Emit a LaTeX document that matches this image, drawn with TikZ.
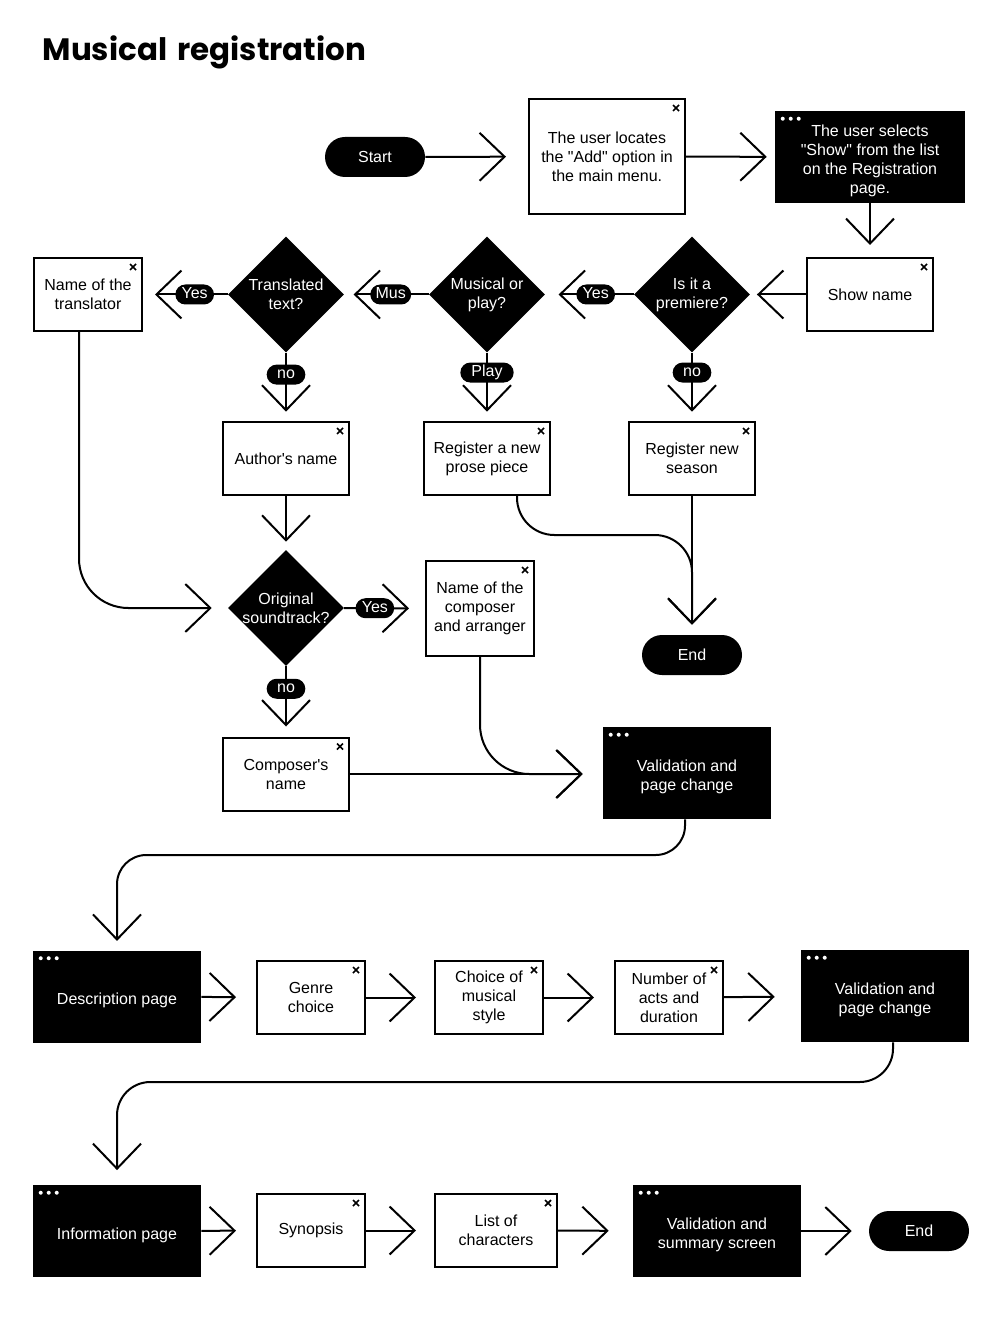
\documentclass[tikz,border=0pt]{standalone}
\usepackage{fontspec}
\setmainfont{Liberation Sans}[Ligatures=TeXOff]
\newfontfamily\titlefont{Poppins}
\usetikzlibrary{shapes.geometric,arrows.meta}

% close mark of a window box, dots of a page box
\newcommand{\winx}[1]{\draw[line width=1.3pt] ([shift={(-13,7)}]#1.north east) -- ++(6,6) ++(-6,0) -- ++(6,-6);}
\newcommand{\windots}[1]{\foreach \k in {0,1,2} \fill[white] ([shift={(8+8*\k,8)}]#1.north west) circle (1.5pt);}

\tikzset{
  winbox/.style={draw, line width=1.5pt, fill=white, align=center, inner sep=2pt},
  wide/.style={minimum width=94.5pt, minimum height=54.75pt},
  narrow/.style={minimum width=81pt, minimum height=54.75pt},
  pagebox/.style={fill=black, minimum width=126pt, minimum height=69pt},
  ptext/.style={text=white, align=center, yshift=-3pt},
  term/.style={fill=black, text=white, rounded corners=15pt, minimum width=75pt, minimum height=30pt},
  decide/.style={diamond, fill=black, minimum width=87pt, minimum height=87pt, inner sep=0pt},
  qtext/.style={text=white, align=center},
  tag/.style={fill=black, text=white, rounded corners=7.5pt, minimum height=15pt, minimum width=29pt, inner xsep=4pt, inner ysep=0pt, text height=8.6pt, text depth=2.4pt},
  flow/.style={line width=1.5pt, -{Straight Barb[length=18.75pt, width=36pt, line width=1.5pt]}, shorten >=7pt},
}

\begin{document}
\begin{tikzpicture}[x=0.75pt, y=-0.75pt, font=\fontsize{12}{14.25}\selectfont]
\useasboundingbox (0,0) rectangle (1005,1319);

\node[anchor=base west, font=\titlefont\bfseries\fontsize{23.2}{28}\selectfont] (title) at (38,61) {Musical\hspace{0.12em} registration};

% first part
\node[term] (start) at (375,157) {Start};
\node[winbox, minimum width=117pt, minimum height=86.25pt] (locate) at (607,156.5) {The user locates\\the "Add" option in\\the main menu.};
\winx{locate}
\node[pagebox, minimum width=142.5pt, label={[ptext]center:The user selects\\"Show" from the list\\on the Registration\\page.}] (select) at (870,157) {};
\windots{select}
\node[winbox, wide] (show) at (870,294.5) {Show name};
\winx{show}
\node[decide, label={[qtext]center:Is it a\\premiere?}] (premiere) at (692,294.5) {};
\node[decide, label={[qtext]center:Musical or\\play?}] (musical) at (487,294.5) {};
\node[decide, label={[qtext]center:Translated\\text?}] (translated) at (286,294.5) {};
\node[winbox, narrow] (translator) at (88,294.5) {Name of the\\translator};
\winx{translator}
\node[winbox, wide] (author) at (286,458.5) {Author's name};
\winx{author}
\node[winbox, wide] (prose) at (487,458.5) {Register a new\\prose piece};
\winx{prose}
\node[winbox, wide] (season) at (692,458.5) {Register new\\season};
\winx{season}
\node[decide, label={[qtext]center:Original\\soundtrack?}] (original) at (286,608) {};
\node[winbox, minimum width=81pt, minimum height=71.25pt] (arranger) at (480,608.5) {Name of the\\composer\\and arranger};
\winx{arranger}
\node[term] (end1) at (692,655) {End};
\node[winbox, wide] (composer) at (286,774) {Composer's\\name};
\winx{composer}
\node[pagebox, label={[ptext]center:Validation and\\page change}] (valA) at (687,773) {};
\windots{valA}

\draw[flow, shorten >=16.5pt] (start) -- (locate);
\draw[flow, shorten >=6pt] (locate) -- (select);
\draw[flow, shorten >=9pt] (select) -- (show);
\draw[flow, shorten >=5pt] (show) -- (premiere);
\draw[flow, shorten >=10pt] (premiere) -- node[tag, pos=.43] {Yes} (musical);
\draw[flow] (musical) -- node[tag, pos=.45] {Mus} (translated);
\draw[flow, shorten >=9pt] (translated) -- node[tag, pos=.39] {Yes} (translator);
\draw[flow] (translated) -- node[tag, pos=.32] {no} (author);
\draw[flow] (musical) -- node[tag, pos=.29, minimum width=40pt] {Play} (prose);
\draw[flow] (premiere) -- node[tag, pos=.29] {no} (season);
\draw[flow, shorten >=6pt] (author) -- (original);
\draw[flow, shorten >=12pt, rounded corners=37pt] ([shift={(-9,0)}]translator.south) |- (original.west);
\draw[flow, shorten >=12pt] (original) -- node[tag, pos=.38] {Yes} (arranger);
\draw[flow, shorten >=7.5pt] (original) -- node[tag, pos=.32] {no} (composer);
\draw[flow, shorten >=15pt] (composer.east) -- (composer.east -| valA.west);
\draw[flow, shorten >=15pt, rounded corners=37pt] (arranger.south) |- (composer.east -| valA.west);
\draw[flow, shorten >=7.5pt] (season) -- (end1);
\coordinate (joinA) at (692,535);
\draw[flow, shorten >=7.5pt, rounded corners=28pt] ([shift={(30,0)}]prose.south) |- (joinA) -- (end1.north);

% description page
\node[pagebox, label={[ptext]center:Description page}] (desc) at (117,996.5) {};
\windots{desc}
\node[winbox, narrow] (genre) at (311,997.5) {Genre\\choice};
\winx{genre}
\node[winbox, narrow] (musstyle) at (489,997.5) {Choice of\\musical\\style};
\winx{musstyle}
\node[winbox, narrow] (acts) at (669,997.5) {Number of\\acts and\\duration};
\winx{acts}
\node[pagebox, label={[ptext]center:Validation and\\page change}] (valB) at (885,996) {};
\windots{valB}

\coordinate (bendA) at (117,855);
\draw[flow, rounded corners=22pt] ([shift={(-2,0)}]valA.south) |- (bendA) -- (desc.north);
\draw[flow, shorten >=15pt] (desc) -- (genre);
\draw[flow, shorten >=13.5pt] (genre) -- (musstyle);
\draw[flow, shorten >=15pt] (musstyle) -- (acts);
\draw[flow, shorten >=19.5pt] (acts) -- (valB);

% information page
\node[pagebox, label={[ptext]center:Information page}] (info) at (117,1231) {};
\windots{info}
\node[winbox, narrow] (synopsis) at (311,1230.5) {Synopsis};
\winx{synopsis}
\node[winbox, minimum width=91.5pt, minimum height=54.75pt] (chars) at (496,1230.5) {List of\\characters};
\winx{chars}
\node[pagebox, label={[ptext]center:Validation and\\summary screen}] (valC) at (717,1231) {};
\windots{valC}
\node[term] (end2) at (919,1231) {End};

\coordinate (bendB) at (117,1082);
\draw[flow, shorten >=11pt, rounded corners=25pt] ([shift={(8,0)}]valB.south) |- (bendB) -- (info.north);
\draw[flow, shorten >=15pt] (info) -- (synopsis);
\draw[flow, shorten >=13.5pt] (synopsis) -- (chars);
\draw[flow, shorten >=18pt] (chars) -- (valC);
\draw[flow, shorten >=12.75pt] (valC) -- (end2);
\end{tikzpicture}
\end{document}
